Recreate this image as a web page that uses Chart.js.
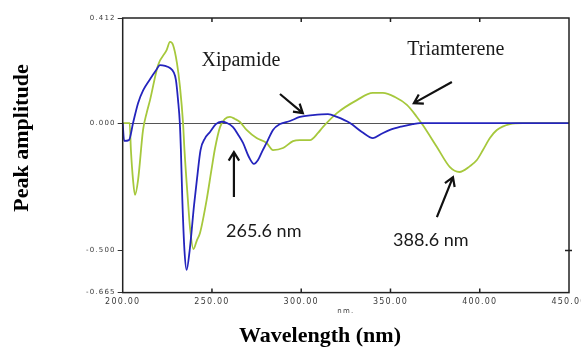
<!DOCTYPE html>
<html>
<head>
<meta charset="utf-8">
<title>Peak amplitude</title>
<script src="https://cdn.jsdelivr.net/npm/chart.js@4.4.0/dist/chart.umd.min.js"></script>
<style>
  html, body { margin: 0; padding: 0; background: #fff; }
  #wrap { width: 581px; height: 353px; position: relative; }
</style>
</head>
<body>
<div id="wrap"><canvas id="spectrum"></canvas></div>
<script>
// first derivative spectra (wavelength in nm)
var xipWavelength = [200, 200.8, 203.5, 205.8, 208.6, 211.5, 215.3, 218.5, 220.9, 223.8,
    226.5, 228.5, 229.8, 231, 232, 232.6, 233.4, 234.6, 235.8, 237.5,
    240, 241.6, 243.6, 246.1, 248.9, 252.2, 255.4, 258.4, 261.8, 264.6,
    267.4, 270.7, 273.5, 275.8, 278.2, 280.6, 284.2, 288.1, 293.7, 299.3,
    306.5, 315, 320, 327.3, 334, 340.2, 345, 349.7, 356, 362.5,
    366.5, 380, 400, 420, 450];
var xipAmplitude = [0, -0.07, -0.067, 0, 0.078, 0.129, 0.172, 0.205, 0.227, 0.224,
    0.216, 0.2, 0.169, 0.09, 0, -0.106, -0.3, -0.5, -0.576, -0.5,
    -0.32, -0.22, -0.106, -0.06, -0.035, -0.004, 0.005, 0, -0.016, -0.045,
    -0.078, -0.133, -0.16, -0.145, -0.11, -0.078, -0.027, -0.004, 0.008, 0.024,
    0.031, 0.035, 0.024, 0, -0.035, -0.059, -0.042, -0.027, -0.014, -0.004,
    0, 0, 0, 0, 0];

var triWavelength = [200, 203.9, 204.6, 205.8, 206.9, 208.6, 211.4, 213.4, 215.3, 219.8,
    224.6, 226.5, 228.2, 230.4, 232.1, 233.8, 234.6, 236.5, 237.7, 239.6,
    241.6, 243.3, 247, 249.8, 251.7, 254.5, 257.3, 260.1, 262.9, 265.7,
    269.4, 275, 280.6, 284.2, 289.8, 295.4, 299.3, 304.9, 309.4, 312.1,
    320, 331.2, 340.1, 345.7, 352.5, 359.2, 364.8, 368.1, 376, 383.3,
    388.6, 394.5, 398.4, 401.8, 405.7, 409.6, 416.9, 424.1, 450];
var triAmplitude = [0, 0, -0.106, -0.224, -0.282, -0.224, -0.027, 0.039, 0.09, 0.227,
    0.286, 0.318, 0.306, 0.235, 0.141, 0, -0.106, -0.3, -0.41, -0.494,
    -0.459, -0.431, -0.302, -0.18, -0.1, -0.016, 0.016, 0.024, 0.016, 0.004,
    -0.027, -0.059, -0.078, -0.106, -0.098, -0.071, -0.067, -0.067, -0.039, -0.016,
    0.039, 0.09, 0.118, 0.118, 0.102, 0.071, 0.024, -0.008, -0.094, -0.173,
    -0.192, -0.169, -0.145, -0.106, -0.059, -0.027, -0.004, 0, 0];

var xTicks = [200, 250, 300, 350, 400, 450];
var yTicks = [-0.665, -0.5, 0, 0.412];

// callouts, in nm / amplitude units
var noteText = ['Xipamide', 'Triamterene', '265.6 nm', '388.6 nm'];
var noteNm   = [266.2, 386.6, 279, 372.6];
var noteAmp  = [0.243, 0.286, -0.424, -0.459];
var noteFont = ['20px "Liberation Serif"', '20px "Liberation Serif"', '18px Lato', '18px Lato'];
var arrowFromNm  = [288.1, 384.4, 262.3, 376];
var arrowFromAmp = [0.114, 0.161, -0.29, -0.369];
var arrowToNm    = [300.9, 363.1, 262.3, 385];
var arrowToAmp   = [0.039, 0.078, -0.114, -0.212];

function toPoints(xs, ys) {
    return xs.map(function(x, i) { return {x: x, y: ys[i]}; });
}

function drawArrow(ctx, x0, y0, x1, y1) {
    var ang = Math.atan2(y1 - y0, x1 - x0), h = 10;
    ctx.beginPath();
    ctx.moveTo(x0, y0);
    ctx.lineTo(x1, y1);
    ctx.moveTo(x1 - h * Math.cos(ang - 0.55), y1 - h * Math.sin(ang - 0.55));
    ctx.lineTo(x1, y1);
    ctx.lineTo(x1 - h * Math.cos(ang + 0.55), y1 - h * Math.sin(ang + 0.55));
    ctx.stroke();
}

// box, inner ticks, callouts and the big axis titles
var framePlugin = {
    id: 'frame',
    beforeDraw: function(chart) { chart.ctx.letterSpacing = '1.2px'; },
    beforeDatasetsDraw: function(chart) { chart.ctx.letterSpacing = '0px'; },
    afterDraw: function(chart) {
        var ctx = chart.ctx, a = chart.chartArea;
        var sx = chart.scales.x, sy = chart.scales.y;
        ctx.save();
        ctx.strokeStyle = '#222';
        ctx.lineWidth = 1.5;
        ctx.strokeRect(a.left, a.top, a.right - a.left, a.bottom - a.top);

        ctx.beginPath();
        xTicks.slice(1, -1).forEach(function(v) {
            var px = sx.getPixelForValue(v);
            ctx.moveTo(px, a.top);
            ctx.lineTo(px, a.top + 4);
            ctx.moveTo(px, a.bottom);
            ctx.lineTo(px, a.bottom - 4);
        });
        var py = sy.getPixelForValue(-0.5);
        ctx.moveTo(a.right - 4, py);
        ctx.lineTo(a.right + 3, py);
        ctx.stroke();

        ctx.strokeStyle = '#111';
        ctx.lineWidth = 2.2;
        for (var i = 0; i < arrowFromNm.length; i++) {
            drawArrow(ctx,
                sx.getPixelForValue(arrowFromNm[i]), sy.getPixelForValue(arrowFromAmp[i]),
                sx.getPixelForValue(arrowToNm[i]), sy.getPixelForValue(arrowToAmp[i]));
        }

        ctx.fillStyle = '#1a1a1a';
        ctx.textAlign = 'center';
        ctx.textBaseline = 'middle';
        for (var j = 0; j < noteText.length; j++) {
            ctx.font = noteFont[j];
            ctx.fillText(noteText[j], sx.getPixelForValue(noteNm[j]), sy.getPixelForValue(noteAmp[j]));
        }

        ctx.fillStyle = '#000';
        ctx.font = 'bold 22px "Liberation Serif"';
        ctx.fillText('Wavelength (nm)', 320, 336);
        ctx.translate(22, 138);
        ctx.rotate(-Math.PI / 2);
        ctx.fillText('Peak amplitude', 0, 0);
        ctx.restore();
    }
};

var ctx = document.getElementById('spectrum');
var chart = new Chart(ctx, {
    type: 'line',
    data: {
        datasets: [
            {
                label: 'Xipamide',
                data: toPoints(xipWavelength, xipAmplitude),
                borderColor: '#2424bd',
                borderWidth: 1.8,
                pointRadius: 0,
                cubicInterpolationMode: 'monotone'
            },
            {
                label: 'Triamterene',
                data: toPoints(triWavelength, triAmplitude),
                borderColor: '#a6c83c',
                borderWidth: 1.8,
                pointRadius: 0,
                cubicInterpolationMode: 'monotone'
            }
        ]
    },
    options: {
        responsive: true,
        maintainAspectRatio: false,
        animation: false,
        layout: { padding: { top: 18, right: 12, left: 0, bottom: 0 } },
        plugins: { legend: { display: false }, tooltip: { enabled: false } },
        scales: {
            x: {
                type: 'linear',
                min: 200,
                max: 450,
                grid: { display: false, drawTicks: false },
                border: { display: false },
                ticks: {
                    stepSize: 50,
                    padding: 5,
                    maxRotation: 0,
                    color: '#3a3a3a',
                    font: { family: 'DejaVu Sans', size: 8 },
                    callback: function(v) { return v.toFixed(2); }
                },
                title: {
                    display: true,
                    text: 'nm.',
                    color: '#3a3a3a',
                    font: { family: 'DejaVu Sans', size: 7 },
                    padding: { top: 0, bottom: 38 }
                },
                afterFit: function(scale) {
                    scale.height = 60.4;
                    scale.paddingLeft = 0;
                    scale.paddingRight = 0;
                }
            },
            y: {
                min: -0.665,
                max: 0.412,
                afterBuildTicks: function(scale) {
                    scale.ticks = yTicks.map(function(v) { return {value: v}; });
                },
                grid: {
                    color: function(c) { return c.tick && c.tick.value === 0 ? '#555' : 'rgba(0,0,0,0)'; },
                    tickColor: '#333',
                    tickLength: 5,
                    lineWidth: 1
                },
                border: { display: false },
                ticks: {
                    padding: 2,
                    color: '#3a3a3a',
                    font: { family: 'DejaVu Sans', size: 7 },
                    callback: function(v) { return v.toFixed(3); }
                },
                afterFit: function(scale) {
                    scale.width = 122.7;
                    scale.paddingTop = 0;
                    scale.paddingBottom = 0;
                }
            }
        }
    },
    plugins: [framePlugin]
});
</script>
</body>
</html>
